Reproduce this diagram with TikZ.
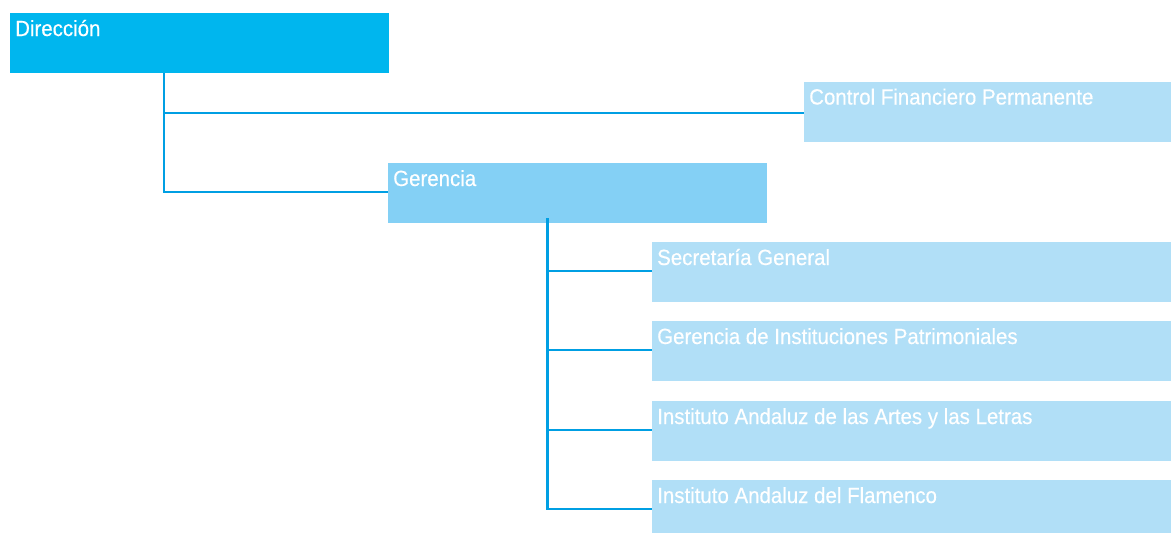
\documentclass[tikz,border=0pt]{standalone}
\usepackage{fontspec}
\setmainfont{Liberation Sans}[FakeStretch=0.93,FakeBold=0.4]
\definecolor{dirblue}{HTML}{00B6EE}
\definecolor{gerblue}{HTML}{84D0F5}
\definecolor{lightblue}{HTML}{B1DFF7}
\definecolor{linecol}{HTML}{009FE3}
\begin{document}
\begin{tikzpicture}[x=1pt,y=-1pt,
  boxnode/.style={draw=none,rectangle,inner sep=0pt,anchor=north west,minimum height=60pt},
  lbl/.style={inner sep=0pt,anchor=base west,text=white,font=\fontsize{22}{26}\selectfont},
  conn/.style={draw=linecol,line width=2.2pt}]
\clip (0,0) rectangle (1171,533);
\fill[white] (0,0) rectangle (1171,533);
% boxes
\node[boxnode,fill=dirblue,minimum width=379pt] (dir) at (10,13) {};
\node[boxnode,fill=lightblue,minimum width=380pt] (cfp) at (804,81.5) {};
\node[boxnode,fill=gerblue,minimum width=379pt] (ger) at (388,163) {};
\node[boxnode,fill=lightblue,minimum width=530pt] (sg) at (652,242) {};
\node[boxnode,fill=lightblue,minimum width=530pt] (gip) at (652,321) {};
\node[boxnode,fill=lightblue,minimum width=530pt] (iaa) at (652,401) {};
\node[boxnode,fill=lightblue,minimum width=530pt] (iaf) at (652,480) {};
% labels
\node[lbl] (dirT) at ([xshift=5pt,yshift=-23pt]dir.north west) {Dirección};
\node[lbl] (cfpT) at ([xshift=5pt,yshift=-23pt]cfp.north west) {Control Financiero Permanente};
\node[lbl] (gerT) at ([xshift=5pt,yshift=-23pt]ger.north west) {Gerencia};
\node[lbl] (sgT) at ([xshift=5pt,yshift=-23pt]sg.north west) {Secretaría General};
\node[lbl] (gipT) at ([xshift=5pt,yshift=-23pt]gip.north west) {Gerencia de Instituciones Patrimoniales};
\node[lbl] (iaaT) at ([xshift=5pt,yshift=-23pt]iaa.north west) {Instituto Andaluz de las Artes y las Letras};
\node[lbl] (iafT) at ([xshift=5pt,yshift=-23pt]iaf.north west) {Instituto Andaluz del Flamenco};
% connectors
\coordinate (dirS) at ([xshift=154pt]dir.south west);
\coordinate (gerS) at ([xshift=159.5pt,yshift=5pt]ger.south west);
\draw[conn] (dirS) |- ([yshift=-1pt]cfp.west);
\draw[conn] (dirS) |- ([yshift=1.5pt]ger.west);
\draw[conn] (gerS) |- ([yshift=1.2pt]sg.west);
\draw[conn] (gerS) |- ([yshift=1pt]gip.west);
\draw[conn] (gerS) |- ([yshift=1pt]iaa.west);
\draw[conn] (gerS) |- ([yshift=1.5pt]iaf.west);
\end{tikzpicture}
\end{document}
